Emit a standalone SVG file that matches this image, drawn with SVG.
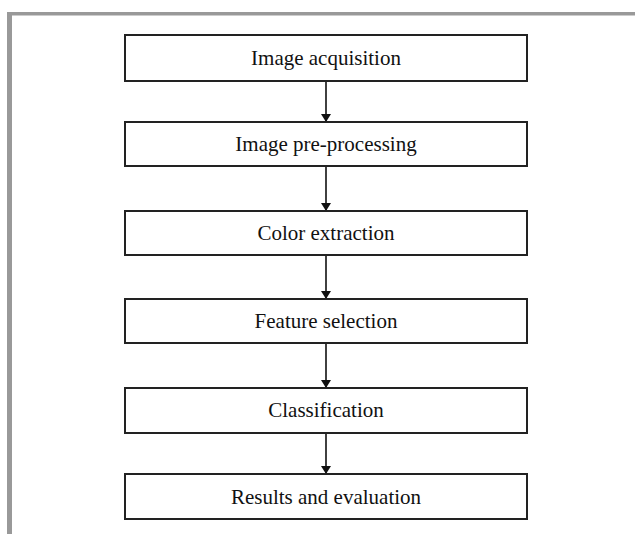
<svg xmlns="http://www.w3.org/2000/svg" width="635" height="534" viewBox="0 0 635 534">
<defs>
<style>
.box{fill:#fff;stroke:#222;stroke-width:2}
.lbl{font-family:"Liberation Serif","Times New Roman",serif;font-size:21px;fill:#111;text-anchor:middle}
.conn{stroke:#111;stroke-width:1.6;fill:none}
</style>
<marker id="ah" markerWidth="8" markerHeight="10" refX="8" refY="5" orient="auto" markerUnits="userSpaceOnUse" viewBox="0 0 8 10">
<path d="M0,0 L8,5 L0,10 z" fill="#111"/>
</marker>
</defs>
<rect width="635" height="534" fill="#fff"/>
<g id="frame">
<rect x="7" y="12" width="628" height="3.5" fill="#999"/>
<rect x="7" y="12" width="5" height="522" fill="#999"/>
</g>
<g id="connectors">
<line class="conn" x1="326" y1="81" x2="326" y2="122" marker-end="url(#ah)"/>
<line class="conn" x1="326" y1="166" x2="326" y2="211" marker-end="url(#ah)"/>
<line class="conn" x1="326" y1="255" x2="326" y2="299" marker-end="url(#ah)"/>
<line class="conn" x1="326" y1="343" x2="326" y2="388" marker-end="url(#ah)"/>
<line class="conn" x1="326" y1="433" x2="326" y2="474" marker-end="url(#ah)"/>
</g>
<g id="n1"><rect class="box" x="125" y="35" width="402" height="46"/><text class="lbl" x="326" y="65">Image acquisition</text></g>
<g id="n2"><rect class="box" x="125" y="122" width="402" height="44"/><text class="lbl" x="326" y="151">Image pre-processing</text></g>
<g id="n3"><rect class="box" x="125" y="211" width="402" height="44"/><text class="lbl" x="326" y="240">Color extraction</text></g>
<g id="n4"><rect class="box" x="125" y="299" width="402" height="44"/><text class="lbl" x="326" y="328">Feature selection</text></g>
<g id="n5"><rect class="box" x="125" y="388" width="402" height="45"/><text class="lbl" x="326" y="417">Classification</text></g>
<g id="n6"><rect class="box" x="125" y="474" width="402" height="45"/><text class="lbl" x="326" y="504">Results and evaluation</text></g>
</svg>
